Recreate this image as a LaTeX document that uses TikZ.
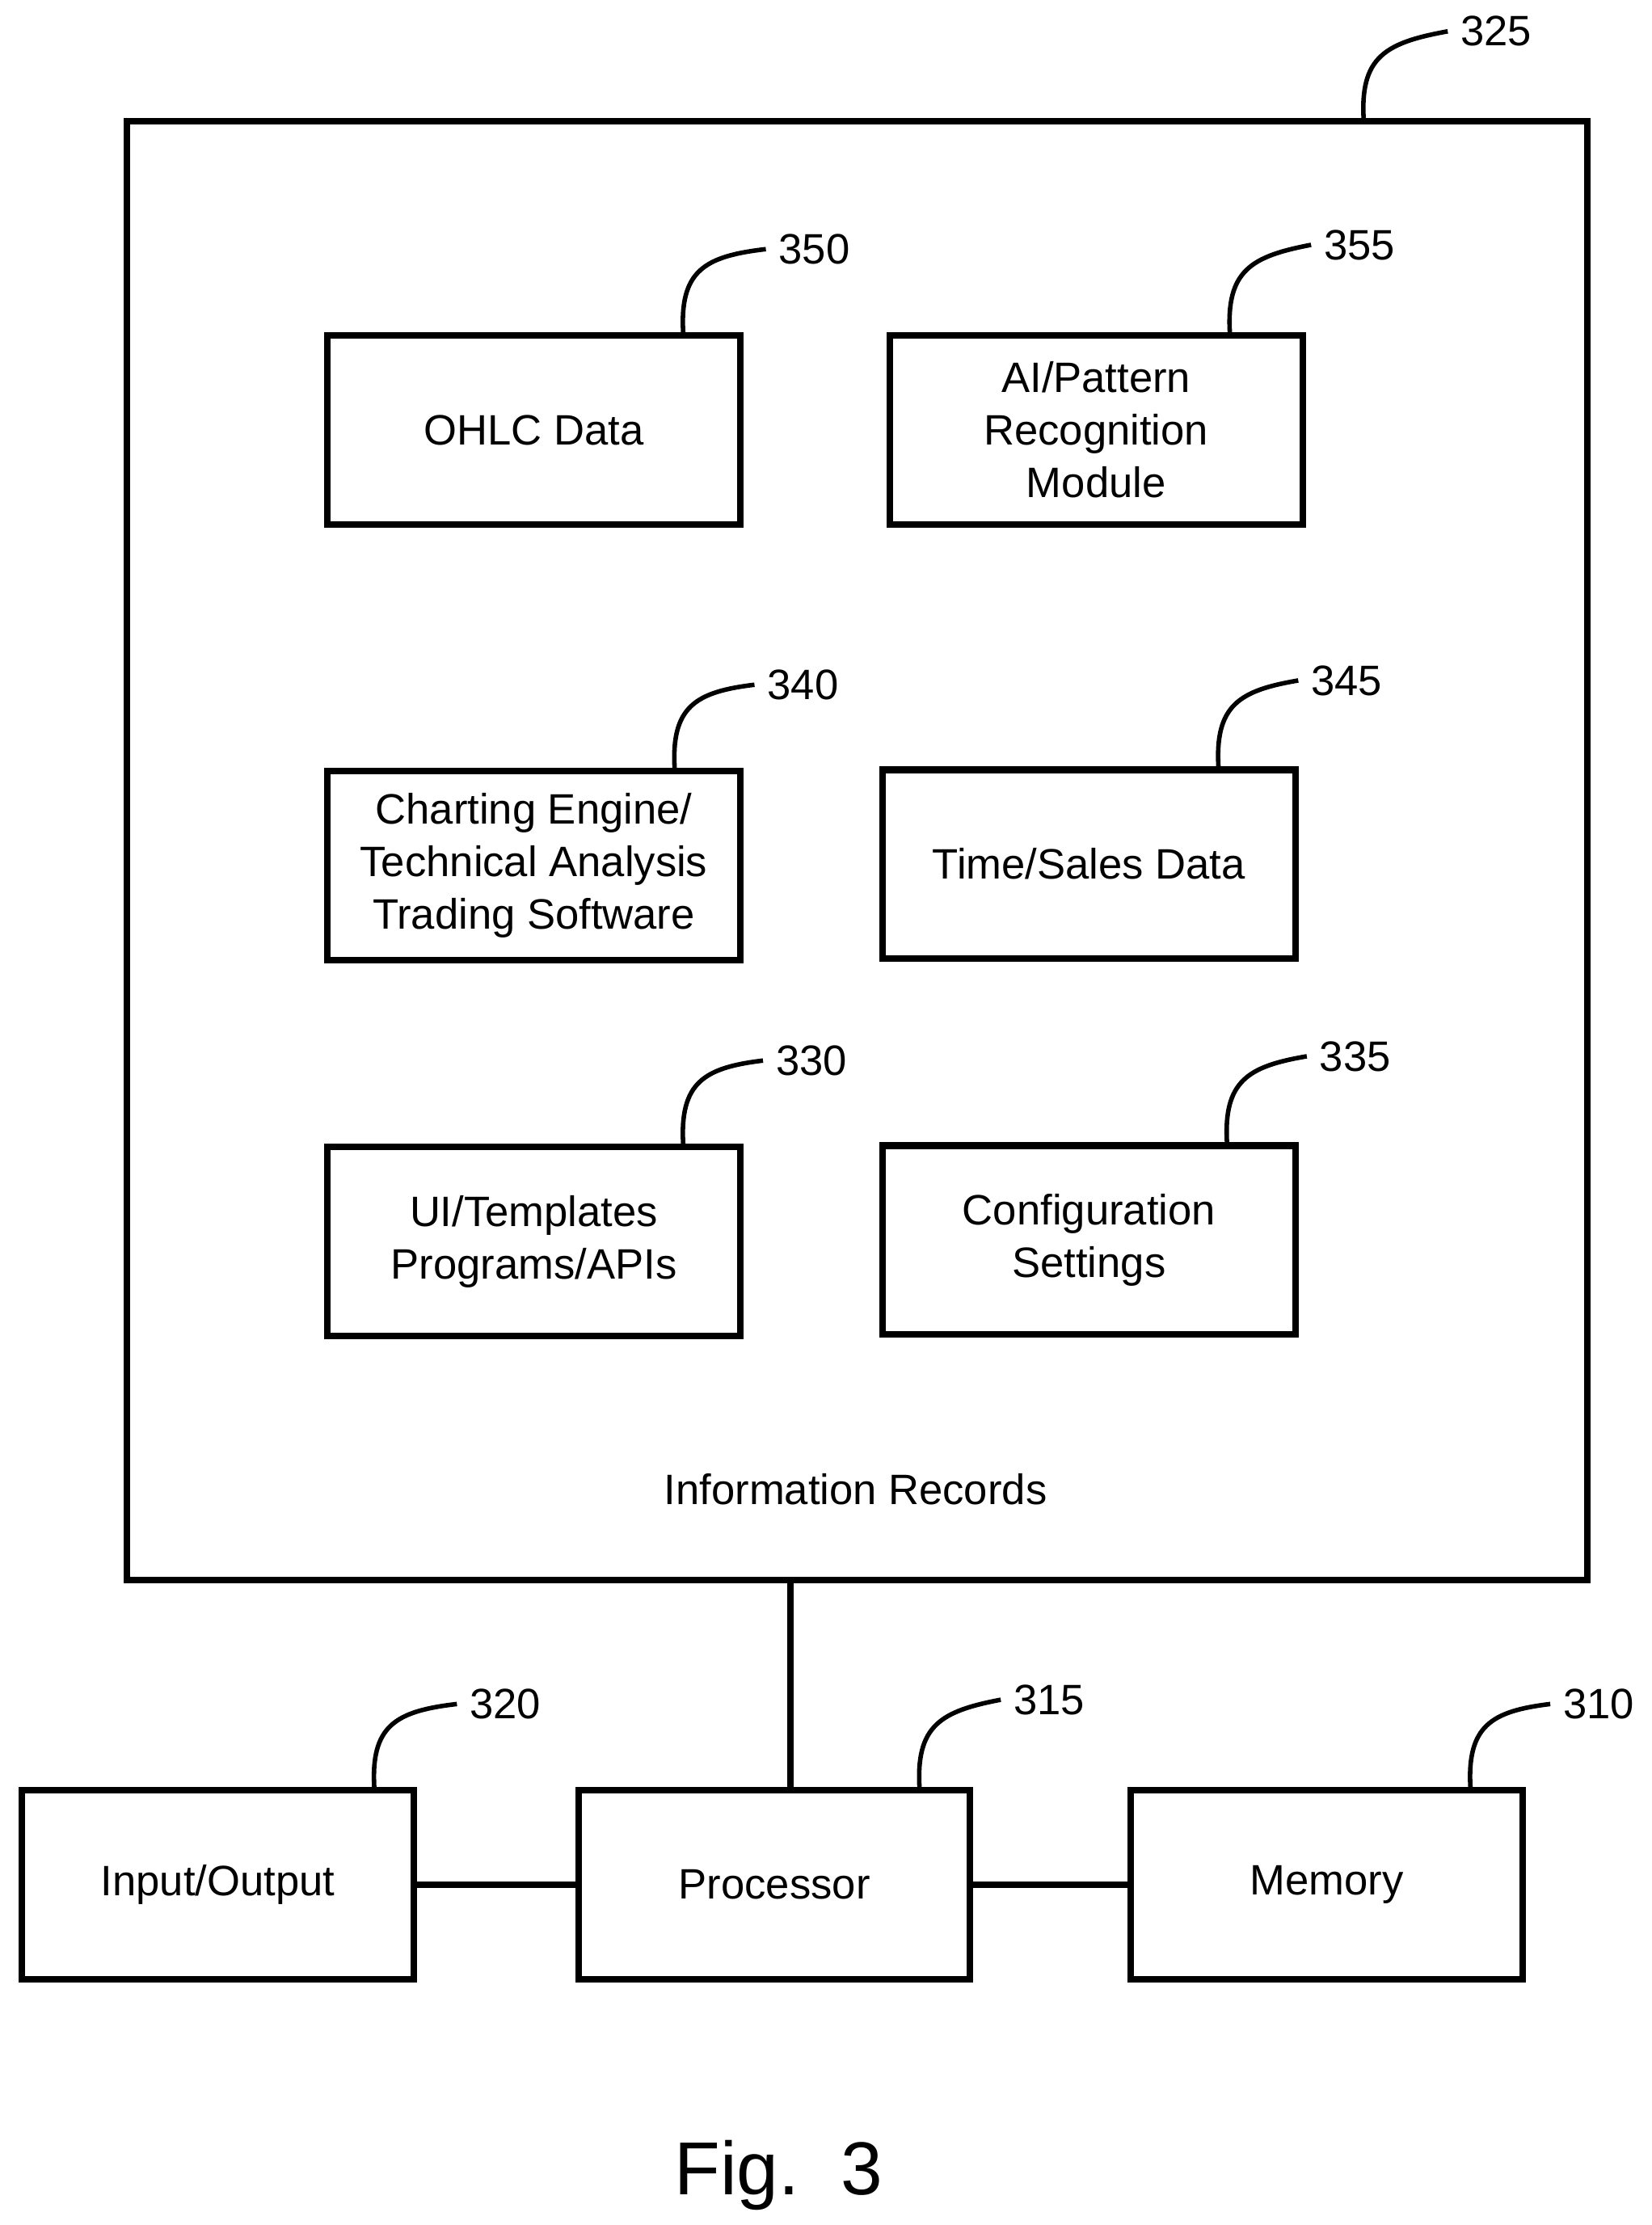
\documentclass[tikz,border=0pt]{standalone}
\usepackage{fontspec}
\setmainfont{Liberation Sans}
\usetikzlibrary{positioning}
\tikzset{
  blk/.style={draw,line width=2.6pt,minimum width=5.8cm,minimum height=2.65cm,align=center,font=\fontsize{17}{21}\selectfont},
  ref/.style={anchor=west,inner sep=1pt,font=\fontsize{17}{20}\selectfont},
  lead/.style={line width=1.8pt},
  wire/.style={line width=2.6pt}
}
\begin{document}
\begin{tikzpicture}[x=0.02cm,y=-0.02cm]
  \useasboundingbox (0,0) rectangle (1160,1563);
  % outer record box
  \draw[line width=2.6pt] (89,85) rectangle (1115,1110);
  \coordinate (outb) at (555,1110);
  \node[font=\fontsize{17}{20}\selectfont] (info) at (601,1046) {Information Records};
  % inner blocks
  \node[blk] (ohlc) at (375,302) {OHLC Data};
  \node[blk] (ai) at (770,302) {AI/Pattern\\Recognition\\Module};
  \node[blk] (chart) at (375,608) {Charting Engine/\\Technical Analysis\\Trading Software};
  \node[blk] (time) at (765,607) {Time/Sales Data};
  \node[blk] (ui) at (375,872) {UI/Templates\\Programs/APIs};
  \node[blk] (conf) at (765,871) {Configuration\\Settings};
  % bottom blocks
  \node[blk,minimum width=5.5cm] (io) at (153,1324) {Input/Output};
  \node[blk,minimum width=5.5cm] (proc) at (544,1324) {Processor};
  \node[blk,minimum width=5.5cm] (mem) at (932,1324) {Memory};
  \draw[wire] (outb) -- (outb |- proc.north);
  \draw[wire] (io) -- (proc);
  \draw[wire] (proc) -- (mem);
  % reference numerals
  \node[ref] (r325) at (1024,22) {325};
  \node[ref] (r350) at (545,175) {350};
  \node[ref] (r355) at (928,172) {355};
  \node[ref] (r340) at (537,481) {340};
  \node[ref] (r345) at (919,478) {345};
  \node[ref] (r330) at (543,745) {330};
  \node[ref] (r335) at (925,742) {335};
  \node[ref] (r320) at (328,1197) {320};
  \node[ref] (r315) at (710,1194) {315};
  \node[ref] (r310) at (1096,1197) {310};
  \foreach \x/\b/\r in {958/85/r325,480/235/r350,864/235/r355,474/541/r340,856/540/r345,480/805/r330,862/804/r335,263/1257/r320,646/1257/r315,1033/1257/r310}
    \draw[lead] (\x,\b) .. controls (\x-3,\b-45) and (\x+15,\b-55) .. ([xshift=-4pt]\r.west);
  % caption
  \node[font=\fontsize{30}{34}\selectfont] (fig) at (547,1528) {Fig.\ \ 3};
\end{tikzpicture}
\end{document}
